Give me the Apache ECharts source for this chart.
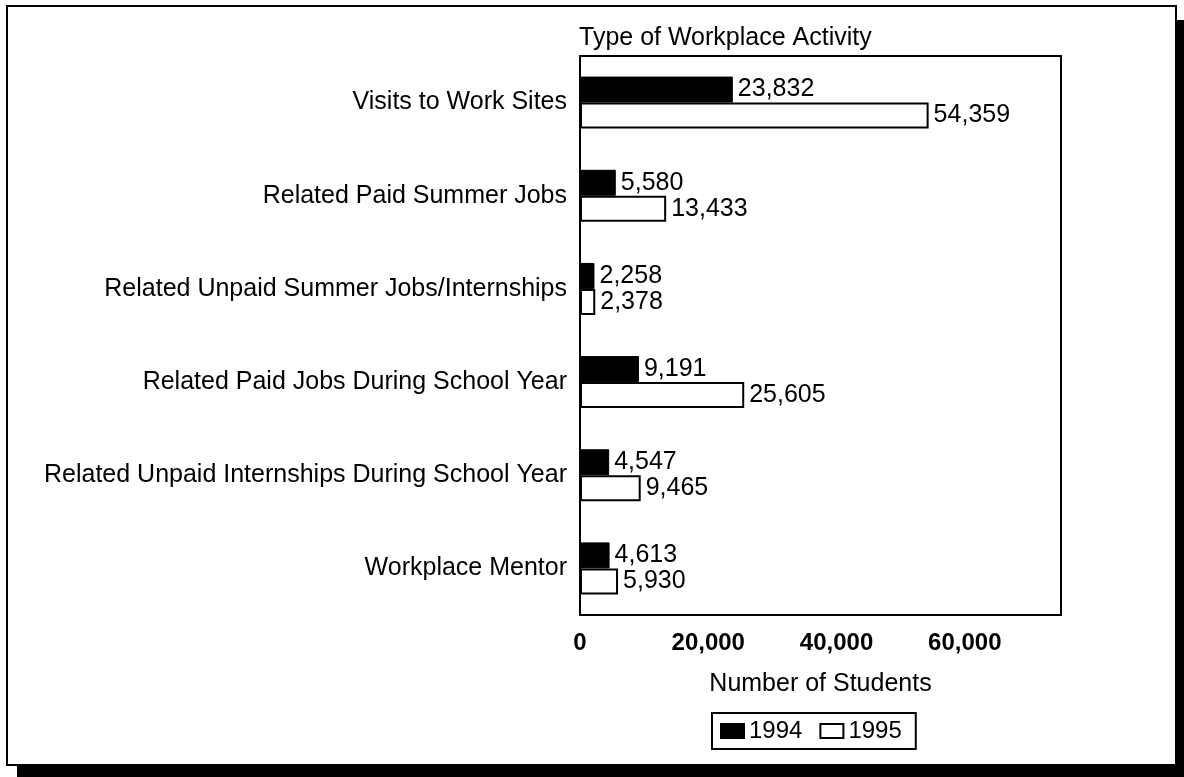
<!DOCTYPE html>
<html>
<head>
<meta charset="utf-8">
<script src="https://cdn.jsdelivr.net/npm/echarts@6/dist/echarts.min.js"></script>
<style>
  html, body { margin: 0; padding: 0; background: #fff; }
  #chart { width: 1184px; height: 777px; }
</style>
</head>
<body>
<div id="chart"></div>
<script>
// data
var categories = [
    'Visits to Work Sites',
    'Related Paid Summer Jobs',
    'Related Unpaid Summer Jobs/Internships',
    'Related Paid Jobs During School Year',
    'Related Unpaid Internships During School Year',
    'Workplace Mentor'
];
var values1994 = [23832, 5580, 2258, 9191, 4547, 4613];
var values1995 = [54359, 13433, 2378, 25605, 9465, 5930];
var seriesNames = ['1994', '1995'];

var font = '"Liberation Sans", Arial, sans-serif';

var chartDom = document.getElementById('chart');
var myChart = echarts.init(chartDom);

function fmt(p) {
    return p.value.toLocaleString('en-US');
}

var labelStyle = {
    show: true,
    position: 'right',
    distance: 5,
    color: '#000',
    fontSize: 25,
    fontFamily: font,
    formatter: fmt
};

var option = {
    backgroundColor: '#fff',
    animation: false,
    title: {
        text: 'Type of Workplace Activity',
        left: 574,
        top: 21,
        textStyle: {
            color: '#000',
            fontSize: 25,
            fontWeight: 'normal',
            fontFamily: font
        }
    },
    legend: {
        data: seriesNames,
        left: 712,
        top: 713,
        orient: 'horizontal',
        icon: 'rect',
        itemWidth: 23,
        itemHeight: 14,
        itemGap: 17,
        padding: [6, 14, 6, 8],
        borderColor: '#000',
        borderWidth: 2,
        textStyle: {
            color: '#000',
            fontSize: 24,
            fontFamily: font
        }
    },
    grid: {
        left: 580,
        top: 56,
        width: 481,
        height: 559,
        show: true,
        borderColor: '#000',
        borderWidth: 2,
        backgroundColor: 'transparent',
        outerBoundsMode: 'none'
    },
    xAxis: {
        type: 'value',
        min: 0,
        max: 75000,
        interval: 20000,
        axisLine: { show: false },
        axisTick: { show: false },
        splitLine: { show: false },
        axisLabel: {
            color: '#000',
            fontSize: 24,
            fontWeight: 'bold',
            fontFamily: font,
            margin: 16,
            showMaxLabel: false,
            formatter: function (v) { return v.toLocaleString('en-US'); }
        },
        name: 'Number of Students',
        nameLocation: 'middle',
        nameGap: 57,
        nameTextStyle: {
            color: '#000',
            fontSize: 25,
            fontFamily: font
        }
    },
    yAxis: {
        type: 'category',
        inverse: true,
        data: categories,
        axisLine: { show: false },
        axisTick: { show: false },
        axisLabel: {
            color: '#000',
            fontSize: 25,
            fontFamily: font,
            margin: 13
        }
    },
    series: [{
        name: seriesNames[0],
        type: 'bar',
        barWidth: 26,
        barGap: '0%',
        itemStyle: { color: '#000', borderColor: '#000', borderWidth: 1 },
        label: labelStyle,
        data: values1994
    }, {
        name: seriesNames[1],
        type: 'bar',
        barWidth: 26,
        barGap: '0%',
        itemStyle: { color: '#fff', borderColor: '#000', borderWidth: 2 },
        label: labelStyle,
        data: values1995
    }],
    graphic: [
        // outer frame
        { type: 'rect', shape: { x: 7, y: 6, width: 1169, height: 759 },
          style: { fill: 'none', stroke: '#000', lineWidth: 2 } },
        // drop shadow right and bottom
        { type: 'rect', shape: { x: 1177, y: 20, width: 7, height: 757 },
          style: { fill: '#000' } },
        { type: 'rect', shape: { x: 17, y: 766, width: 1167, height: 11 },
          style: { fill: '#000' } }
    ]
};

option && myChart.setOption(option);
</script>
</body>
</html>
